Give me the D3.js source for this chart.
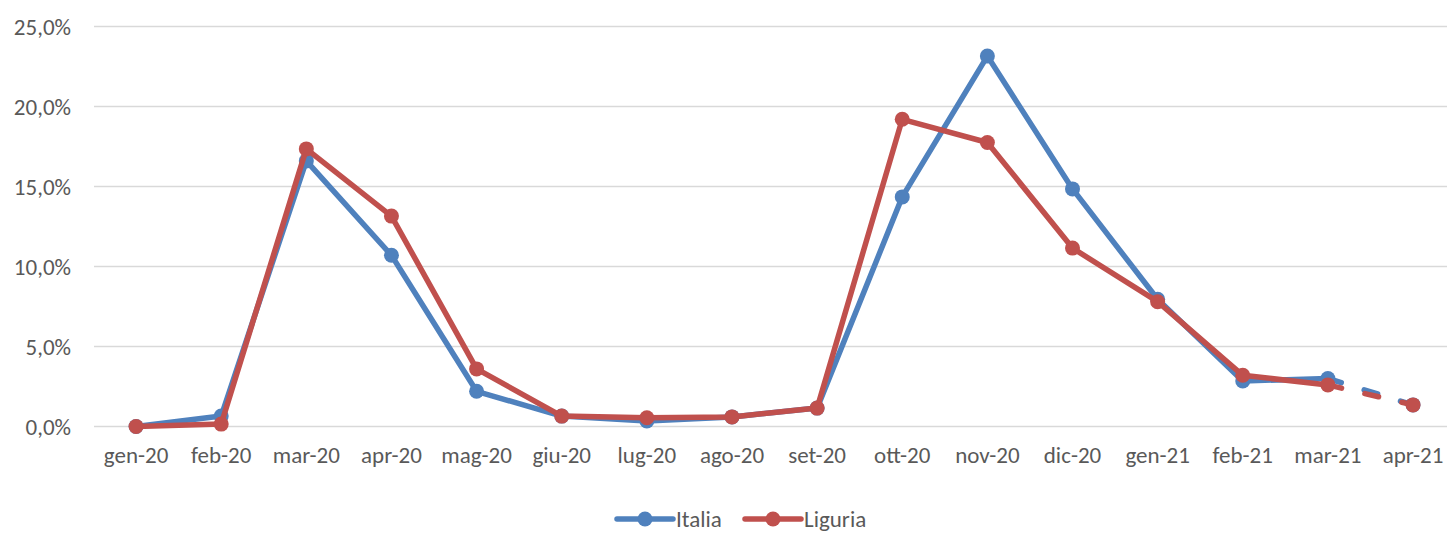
<!DOCTYPE html>
<html><head><meta charset="utf-8">
<script src="https://cdn.jsdelivr.net/npm/d3@7"></script>
<style>body{margin:0;background:#fff;} text{font-family:Carlito,Lato,"Liberation Sans",Arial,sans-serif;}</style>
</head><body><svg id="c" width="1447" height="534"></svg>
<script>
const categories = ["gen-20","feb-20","mar-20","apr-20","mag-20","giu-20","lug-20","ago-20","set-20","ott-20","nov-20","dic-20","gen-21","feb-21","mar-21","apr-21"];
const italia  = [0.0,0.65,16.6,10.7,2.2,0.65,0.35,0.6,1.15,14.35,23.15,14.85,7.95,2.85,3.0,1.35];
const liguria = [0.0,0.15,17.35,13.15,3.6,0.65,0.55,0.6,1.15,19.2,17.75,11.15,7.8,3.2,2.6,1.35];
const yTicks = [0,5,10,15,20,25];
const seriesNames = ["Italia","Liguria"];
const colors = ["#4f81bd","#c0504d"];

const svg = d3.select("#c");
const x = d3.scaleBand().domain(categories).range([93.5, 1455.6]);
const y = d3.scaleLinear().domain([0,25]).range([426.5, 26.5]);
const fmt = v => v.toFixed(1).replace(".", ",") + "%";
const FS = 23;

svg.append("g").selectAll("line").data(yTicks).join("line")
  .attr("x1", 94).attr("x2", 1447).attr("y1", d=>y(d)).attr("y2", d=>y(d))
  .attr("stroke", "#d9d9d9").attr("stroke-width", 1.3);

const yAxis = svg.append("g").attr("transform","translate(71,0)")
  .call(d3.axisLeft(y).tickValues(yTicks).tickFormat(fmt).tickSize(0).tickPadding(0));
yAxis.select(".domain").remove();
yAxis.selectAll("text").attr("font-size", FS).attr("fill", "#595959").attr("dy","0.35em").attr("text-anchor","end");

const xAxis = svg.append("g").attr("transform","translate(0,446)")
  .call(d3.axisBottom(x).tickSize(0).tickPadding(0));
xAxis.select(".domain").remove();
xAxis.selectAll("text").attr("font-size", FS).attr("fill", "#595959").attr("dy","0.75em");

const cx = d => x(d) + x.bandwidth()/2;
const data = [italia, liguria];
const n = categories.length;
data.forEach((vals, i) => {
  const pts = vals.map((v, j) => [cx(categories[j]), y(v)]);
  const line = d3.line();
  svg.append("path").attr("d", line(pts.slice(0, n-1)))
    .attr("fill","none").attr("stroke", colors[i]).attr("stroke-width", 5.5).attr("stroke-linejoin","round").attr("stroke-linecap","round");
  svg.append("path").attr("d", line(pts.slice(n-2)))
    .attr("fill","none").attr("stroke", colors[i]).attr("stroke-width", 5.5).attr("stroke-linecap","round")
    .attr("stroke-dasharray","14,24");
  svg.append("g").selectAll("circle").data(pts).join("circle")
    .attr("cx", d=>d[0]).attr("cy", d=>d[1]).attr("r", 7.5).attr("fill", colors[i]);
});

const legX = [617, 745];
seriesNames.forEach((name, i) => {
  const g = svg.append("g").attr("transform", `translate(${legX[i]},519)`);
  g.append("line").attr("x1",0).attr("x2",56).attr("stroke",colors[i]).attr("stroke-width",5.5).attr("stroke-linecap","round");
  g.append("circle").attr("cx",28).attr("r",7.5).attr("fill",colors[i]);
  g.append("text").attr("x",59).attr("dy","0.35em").attr("font-size",FS).attr("fill","#595959").text(name);
});
</script></body></html>
